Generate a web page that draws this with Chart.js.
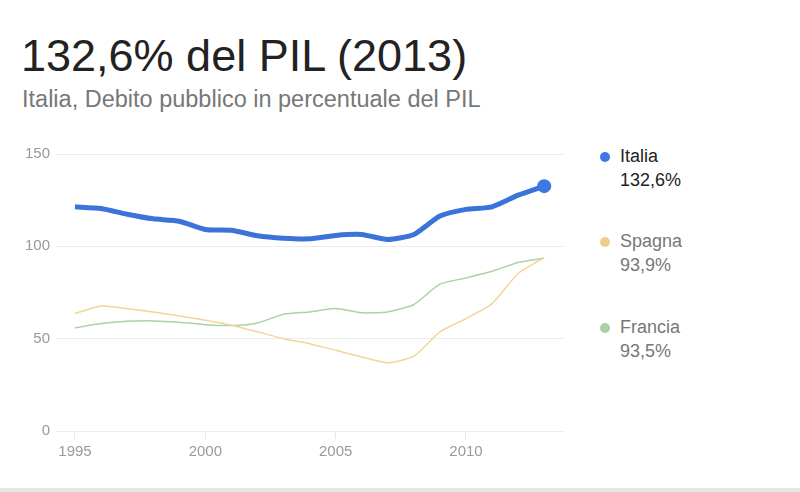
<!DOCTYPE html>
<html>
<head>
<meta charset="utf-8">
<script src="https://cdn.jsdelivr.net/npm/chart.js@4.4.1/dist/chart.umd.min.js"></script>
<style>
  body { margin: 0; width: 800px; height: 492px; background: #fff; font-family: "Liberation Sans", Arial, sans-serif; overflow: hidden; position: relative; }
  #title { position: absolute; left: 21px; top: 30px; font-size: 45px; color: #222; white-space: nowrap; }
  #subtitle { position: absolute; left: 22px; top: 86px; font-size: 23.5px; color: #777; white-space: nowrap; }
  #wrap { position: absolute; left: 0; top: 138px; width: 571px; height: 333px; }
  .leg { position: absolute; left: 620px; font-size: 18px; line-height: 24px; color: #777; }
  .dot { position: absolute; width: 10px; height: 10px; border-radius: 50%; left: -20px; top: 8px; }
  #foot { position: absolute; left: 0; top: 488px; width: 800px; height: 4px; background: #e6e6e6; }
</style>
</head>
<body>
<div id="title">132,6% del PIL (2013)</div>
<div id="subtitle">Italia, Debito pubblico in percentuale del PIL</div>
<div id="wrap"><canvas id="debt"></canvas></div>
<div id="legend"></div>
<div id="foot"></div>
<script>
// anni e valori (% del PIL)
const years = [1995, 1996, 1997, 1998, 1999, 2000, 2001, 2002, 2003, 2004, 2005, 2006, 2007, 2008, 2009, 2010, 2011, 2012, 2013];
const italia  = [121.4, 120.5, 117.4, 114.9, 113.6, 109.1, 108.7, 105.7, 104.4, 104.1, 105.9, 106.4, 103.7, 106.4, 116.4, 120.0, 121.4, 127.7, 132.6];
const spagna  = [63.6, 67.7, 66.3, 64.5, 62.3, 60.0, 57.3, 53.7, 50.0, 47.3, 43.7, 40.1, 37.0, 40.5, 53.7, 60.9, 69.0, 85.3, 93.9];
const francia = [55.8, 58.2, 59.4, 59.6, 58.9, 57.6, 57.1, 58.5, 63.2, 64.5, 66.3, 64.0, 64.5, 68.5, 79.5, 82.9, 86.5, 91.2, 93.5];
const xTicks = [1995, 2000, 2005, 2010];
const yTicks = [0, 50, 100, 150];

const names = ['Italia', 'Spagna', 'Francia'];
const colors = ['#3c73da', '#f3d59c', '#acd3a3'];
const dotColors = ['#3d78e0', '#f1cd8c', '#a9d0a0'];
const series = [italia, spagna, francia];

const pts = arr => years.map((y, i) => ({ x: y, y: arr[i] }));
const last = years.length - 1;

// legenda a destra
const legTops = [144, 229, 315];
const legend = document.getElementById('legend');
names.forEach((n, i) => {
  const d = document.createElement('div');
  d.className = 'leg';
  d.style.top = legTops[i] + 'px';
  if (i === 0) d.style.color = '#222';
  const v = series[i][last].toFixed(1).replace('.', ',') + '%';
  d.innerHTML = '<span class="dot" style="background:' + dotColors[i] + '"></span>' + n + '<br>' + v;
  legend.appendChild(d);
});

let ctx = document.getElementById('debt');
let chart = new Chart(ctx, {
  type: 'line',
  data: {
    datasets: [{
      label: names[0], data: pts(italia), borderColor: colors[0], backgroundColor: dotColors[0],
      borderWidth: 5, tension: 0.2,
      pointRadius: c => c.dataIndex === last ? 7 : 0, pointBorderWidth: 0
    }, {
      label: names[1], data: pts(spagna), borderColor: colors[1],
      borderWidth: 1.5, tension: 0.2, pointRadius: 0
    }, {
      label: names[2], data: pts(francia), borderColor: colors[2],
      borderWidth: 1.5, tension: 0.2, pointRadius: 0
    }]
  },
  options: {
    responsive: true, maintainAspectRatio: false, animation: false,
    layout: { padding: 0 },
    plugins: { legend: { display: false }, tooltip: { enabled: false } },
    scales: {
      x: {
        type: 'linear', min: 1994.31, max: 2013.76,
        afterBuildTicks: s => { s.ticks = xTicks.map(v => ({ value: v })); },
        afterFit: s => { s.height = 40; },
        grid: { drawOnChartArea: false, drawTicks: true, tickLength: 8, color: '#e6e6e6' },
        border: { display: false },
        ticks: { padding: 4, color: '#999', font: { family: 'Liberation Sans', size: 15 }, maxRotation: 0, callback: v => String(v) }
      },
      y: {
        min: 0, max: 150,
        afterBuildTicks: s => { s.ticks = yTicks.map(v => ({ value: v })); },
        afterFit: s => { s.width = 57; },
        grid: { color: '#ececec', drawTicks: false },
        border: { display: false },
        ticks: { padding: 7, color: '#999', font: { family: 'Liberation Sans', size: 15 } }
      }
    }
  }
});
</script>
</body>
</html>
